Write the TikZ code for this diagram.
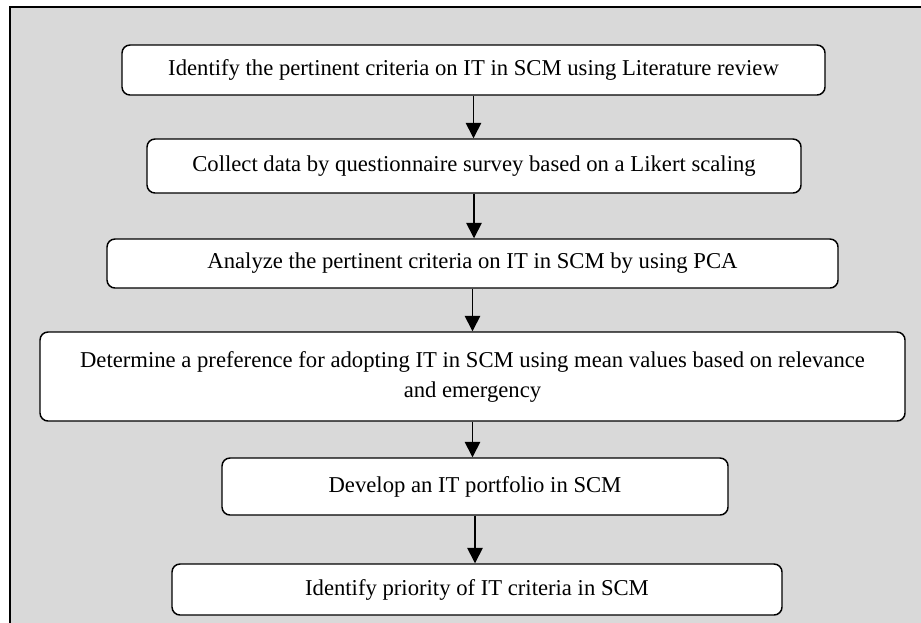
\documentclass[tikz,border=0pt]{standalone}
\usepackage{fontspec}
\setmainfont{Liberation Serif}
\usepackage{tikz}
\usetikzlibrary{arrows.meta,positioning,calc}
\tikzset{>={Triangle[length=11.5pt,width=11.5pt]}}
\definecolor{framegray}{HTML}{D9D9D9}
\tikzset{
  stepbox/.style={draw=black,line width=1.1pt,fill=white,rounded corners=6pt,
    inner sep=0pt,align=center,font=\fontsize{17}{22.5}\selectfont},
  flow/.style={->,line width=1.2pt}
}

\begin{document}
\begin{tikzpicture}[x=0.75pt,y=-0.75pt]
    \useasboundingbox (0,0) rectangle (921,622);
    \begin{scope}
      \clip (0,0) rectangle (921,622);
      \fill [framegray] (10,7) rectangle (940,640);
      \draw [line width=1.5pt] (10,640) -- (10,7) -- (940,7);
    \end{scope}
    \node [stepbox,minimum width=703*0.75pt,minimum height=50*0.75pt] (identify) at (473.5,70) {Identify the pertinent criteria on IT in SCM using Literature review};
    \node [stepbox,minimum width=654*0.75pt,minimum height=54*0.75pt] (collect) at (474,166) {Collect data by questionnaire survey based on a Likert scaling};
    \node [stepbox,minimum width=731*0.75pt,minimum height=49*0.75pt] (analyze) at (472.5,263.5) {Analyze the pertinent criteria on IT in SCM by using PCA};
    \node [stepbox,minimum width=865*0.75pt,minimum height=89*0.75pt] (determine) at (472.5,376.5) {Determine a preference for adopting IT in SCM using mean values based on relevance\\and emergency};
    \node [stepbox,minimum width=506*0.75pt,minimum height=57*0.75pt] (develop) at (475,486.5) {Develop an IT portfolio in SCM};
    \node [stepbox,minimum width=610*0.75pt,minimum height=51*0.75pt] (priority) at (477,589.5) {Identify priority of IT criteria in SCM};
    \draw [flow] (identify.south) -- (identify.south |- collect.north);
    \draw [flow] (collect.south) -- (collect.south |- analyze.north);
    \draw [flow] (analyze.south) -- (analyze.south |- determine.north);
    \draw [flow] (determine.south) -- (determine.south |- develop.north);
    \draw [flow] (develop.south) -- (develop.south |- priority.north);
  \end{tikzpicture}
\end{document}
